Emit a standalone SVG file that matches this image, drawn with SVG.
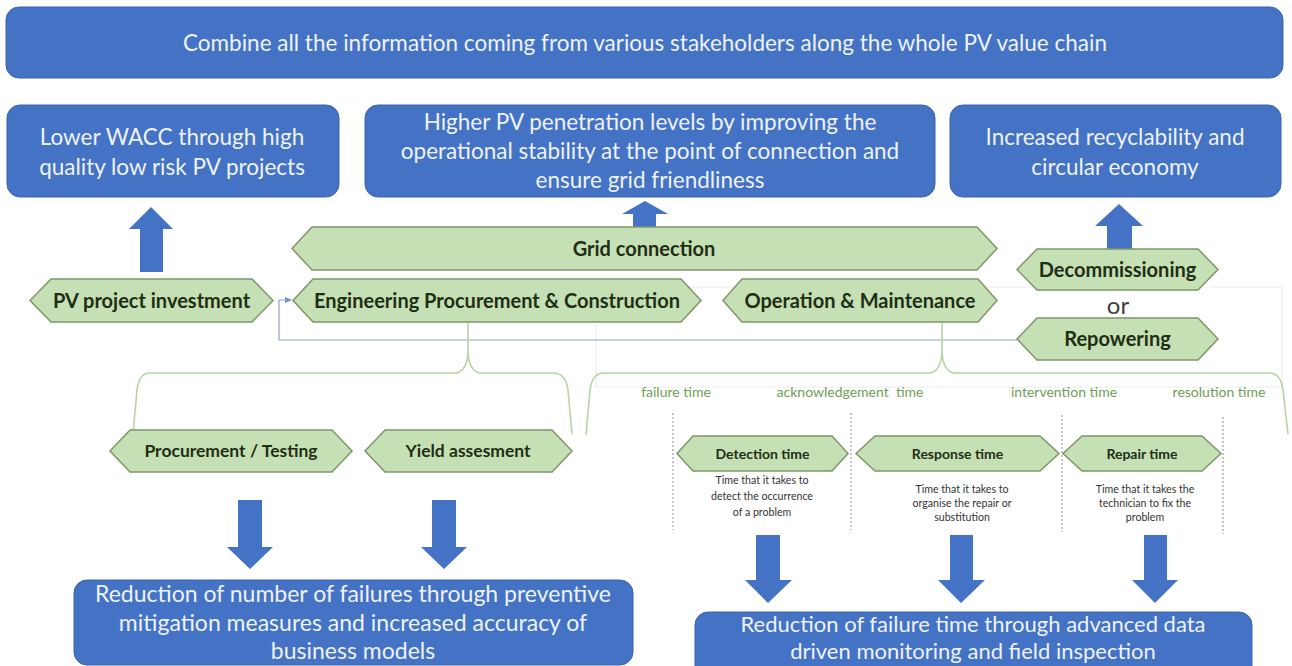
<svg xmlns="http://www.w3.org/2000/svg" width="1292" height="666" viewBox="0 0 1292 666">
  <style>
    .box { fill: #4472c4; stroke: #3a64ad; stroke-width: 1; }
    .boxtxt { font-family: Lato, "Liberation Sans", sans-serif; fill: #eef2fa; text-anchor: middle; }
    .hex { fill: #c5e0b4; stroke: #7d9669; stroke-width: 1.5; }
    .hextxt { font-family: Lato, "Liberation Sans", sans-serif; font-weight: bold; fill: #1f2e14; text-anchor: middle; }
    .big { fill: #4472c4; }
    .brace { fill: none; stroke: #b5d5a0; stroke-width: 1.6; }
    .tlabel { font-family: Lato, "Liberation Sans", sans-serif; font-size: 14px; fill: #6f9d55; text-anchor: middle; }
    .desc { font-family: Lato, "Liberation Sans", sans-serif; font-size: 10.6px; fill: #333333; text-anchor: middle; }
    .dots { stroke: #8a8a8a; stroke-width: 1; stroke-dasharray: 2 2; fill: none; }
    .link { fill: none; stroke: #8ea4cc; stroke-width: 1.2; }
    .faint { fill: none; stroke: #ececec; stroke-width: 1; }
  </style>
  <defs>
    <marker id="tip" markerWidth="8" markerHeight="8" refX="6" refY="4" orient="auto" markerUnits="userSpaceOnUse">
      <path d="M0,1 L7,4 L0,7 Z" fill="#6f8fc9"/>
    </marker>
  </defs>

  <rect width="1292" height="666" fill="#ffffff"/>

  <!-- faint frame around the end-of-life area -->
  <rect class="faint" x="596" y="287" width="686" height="100"/>

  <!-- outcome boxes -->
  <g id="top-box">
    <rect class="box" x="6" y="7" width="1277" height="71" rx="13"/>
    <text class="boxtxt" x="645" y="51" font-size="22.5">Combine all the information coming from various stakeholders along the whole PV value chain</text>
  </g>
  <g id="wacc-box">
    <rect class="box" x="7" y="105" width="332" height="92" rx="13"/>
    <text class="boxtxt" x="172" y="145" font-size="22.5">Lower WACC through high</text>
    <text class="boxtxt" x="172" y="175" font-size="22.5">quality low risk PV projects</text>
  </g>
  <g id="grid-box">
    <rect class="box" x="365" y="105" width="570" height="92" rx="13"/>
    <text class="boxtxt" x="650" y="130" font-size="22.5">Higher PV penetration levels by improving the</text>
    <text class="boxtxt" x="650" y="159" font-size="22.5">operational stability at the point of connection and</text>
    <text class="boxtxt" x="650" y="188" font-size="22.5">ensure grid friendliness</text>
  </g>
  <g id="recycle-box">
    <rect class="box" x="950" y="105" width="331" height="92" rx="13"/>
    <text class="boxtxt" x="1115" y="145" font-size="22.5">Increased recyclability and</text>
    <text class="boxtxt" x="1115" y="175" font-size="22.5">circular economy</text>
  </g>
  <g id="failures-box">
    <rect class="box" x="74" y="580" width="559" height="85" rx="13"/>
    <text class="boxtxt" x="353" y="602" font-size="23">Reduction of number of failures through preventive</text>
    <text class="boxtxt" x="353" y="631" font-size="23">mitigation measures and increased accuracy of</text>
    <text class="boxtxt" x="353" y="659" font-size="23">business models</text>
  </g>
  <g id="failure-time-box">
    <rect class="box" x="695" y="612" width="557" height="70" rx="13"/>
    <text class="boxtxt" x="973" y="632" font-size="22">Reduction of failure time through advanced data</text>
    <text class="boxtxt" x="973" y="659" font-size="22">driven monitoring and field inspection</text>
  </g>

  <!-- block arrows -->
  <g id="block-arrows">
    <path class="big" d="M151,207 L173,229 L163,229 L163,272 L140,272 L140,229 L129,229 Z"/>
    <path class="big" d="M645,201 L668,214 L656,214 L656,227 L633,227 L633,214 L622,214 Z"/>
    <path class="big" d="M1119,204 L1143,226 L1132,226 L1132,249 L1107,249 L1107,226 L1095,226 Z"/>
    <path class="big" d="M238,500 L262,500 L262,547 L273,547 L250,569 L227,547 L238,547 Z"/>
    <path class="big" d="M432,500 L456,500 L456,547 L467,547 L444,569 L421,547 L432,547 Z"/>
    <path class="big" d="M756,535 L780,535 L780,580 L792,580 L768,603 L745,580 L756,580 Z"/>
    <path class="big" d="M950,535 L973,535 L973,580 L985,580 L961,603 L938,580 L950,580 Z"/>
    <path class="big" d="M1144,535 L1167,535 L1167,580 L1178,580 L1155,603 L1132,580 L1144,580 Z"/>
  </g>

  <!-- connectors and braces -->
  <g id="connectors">
    <polyline class="link" points="1017,340 279,340 279,300 291,300" marker-end="url(#tip)"/>
    <path class="brace" d="M133,434 L137,390 Q139,373 150,373 L456,373 Q467,371 468,352 L468,323 M468,352 Q469,371 480,373 L554,373 Q566,374 568,390 L572,434"/>
    <path class="brace" d="M586,435 L590,390 Q592,373 604,373 L930,373 Q941,371 942,352 L942,323 M942,352 Q943,371 954,373 L1270,373 Q1281,374 1283,390 L1288,434"/>
    <line class="dots" x1="673" y1="413" x2="673" y2="530"/>
    <line class="dots" x1="851" y1="413" x2="851" y2="530"/>
    <line class="dots" x1="1062" y1="415" x2="1062" y2="532"/>
    <line class="dots" x1="1223" y1="417" x2="1223" y2="534"/>
  </g>

  <!-- value chain stages -->
  <g id="grid-connection">
    <polygon class="hex" points="292,248.5 312,227 977,227 997,248.5 977,270 312,270"/>
    <text class="hextxt" x="644" y="255.5" font-size="20">Grid connection</text>
  </g>
  <g id="pv-investment">
    <polygon class="hex" points="30,300.5 51,279 252,279 273,300.5 252,322 51,322"/>
    <text class="hextxt" x="151.5" y="307.5" font-size="20">PV project investment</text>
  </g>
  <g id="epc">
    <polygon class="hex" points="293,300.5 313,279 681,279 701,300.5 681,322 313,322"/>
    <text class="hextxt" x="497" y="307.5" font-size="20">Engineering Procurement &amp; Construction</text>
  </g>
  <g id="om">
    <polygon class="hex" points="723,300.5 742,279 978,279 997,300.5 978,322 742,322"/>
    <text class="hextxt" x="860" y="307.5" font-size="20">Operation &amp; Maintenance</text>
  </g>
  <g id="decommissioning">
    <polygon class="hex" points="1017,269.5 1037,249 1198,249 1218,269.5 1198,290 1037,290"/>
    <text class="hextxt" x="1117.5" y="276.5" font-size="20">Decommissioning</text>
  </g>
  <text x="1118" y="314" font-family="Lato, 'Liberation Sans', sans-serif" font-size="24" fill="#404040" text-anchor="middle">or</text>
  <g id="repowering">
    <polygon class="hex" points="1017,339 1037,318 1198,318 1218,339 1198,360 1037,360"/>
    <text class="hextxt" x="1117.5" y="346" font-size="20">Repowering</text>
  </g>
  <g id="procurement-testing">
    <polygon class="hex" points="110,451 130,430 332,430 352,451 332,472 130,472"/>
    <text class="hextxt" x="231" y="457" font-size="17.5">Procurement / Testing</text>
  </g>
  <g id="yield-assessment">
    <polygon class="hex" points="365,451 385,430 552,430 572,451 552,472 385,472"/>
    <text class="hextxt" x="468" y="457" font-size="17.5">Yield assesment</text>
  </g>

  <!-- O&M time breakdown -->
  <text class="tlabel" x="676" y="397">failure time</text>
  <text class="tlabel" x="850" y="397" xml:space="preserve">acknowledgement  time</text>
  <text class="tlabel" x="1064" y="397">intervention time</text>
  <text class="tlabel" x="1219" y="397">resolution time</text>

  <g id="detection-time">
    <polygon class="hex" points="677,453.5 693,436 832,436 848,453.5 832,471 693,471"/>
    <text class="hextxt" x="762.5" y="458.5" font-size="14">Detection time</text>
    <text class="desc" x="762" y="484">Time that it takes to</text>
    <text class="desc" x="762" y="500">detect the occurrence</text>
    <text class="desc" x="762" y="516">of a problem</text>
  </g>
  <g id="response-time">
    <polygon class="hex" points="856,453.5 875,436 1040,436 1059,453.5 1040,471 875,471"/>
    <text class="hextxt" x="957.5" y="458.5" font-size="14">Response time</text>
    <text class="desc" x="962" y="493">Time that it takes to</text>
    <text class="desc" x="962" y="507">organise the repair or</text>
    <text class="desc" x="962" y="521">substitution</text>
  </g>
  <g id="repair-time">
    <polygon class="hex" points="1063,453.5 1082,436 1202,436 1221,453.5 1202,471 1082,471"/>
    <text class="hextxt" x="1142" y="458.5" font-size="14">Repair time</text>
    <text class="desc" x="1145" y="493">Time that it takes the</text>
    <text class="desc" x="1145" y="507">technician to fix the</text>
    <text class="desc" x="1145" y="521">problem</text>
  </g>
</svg>
